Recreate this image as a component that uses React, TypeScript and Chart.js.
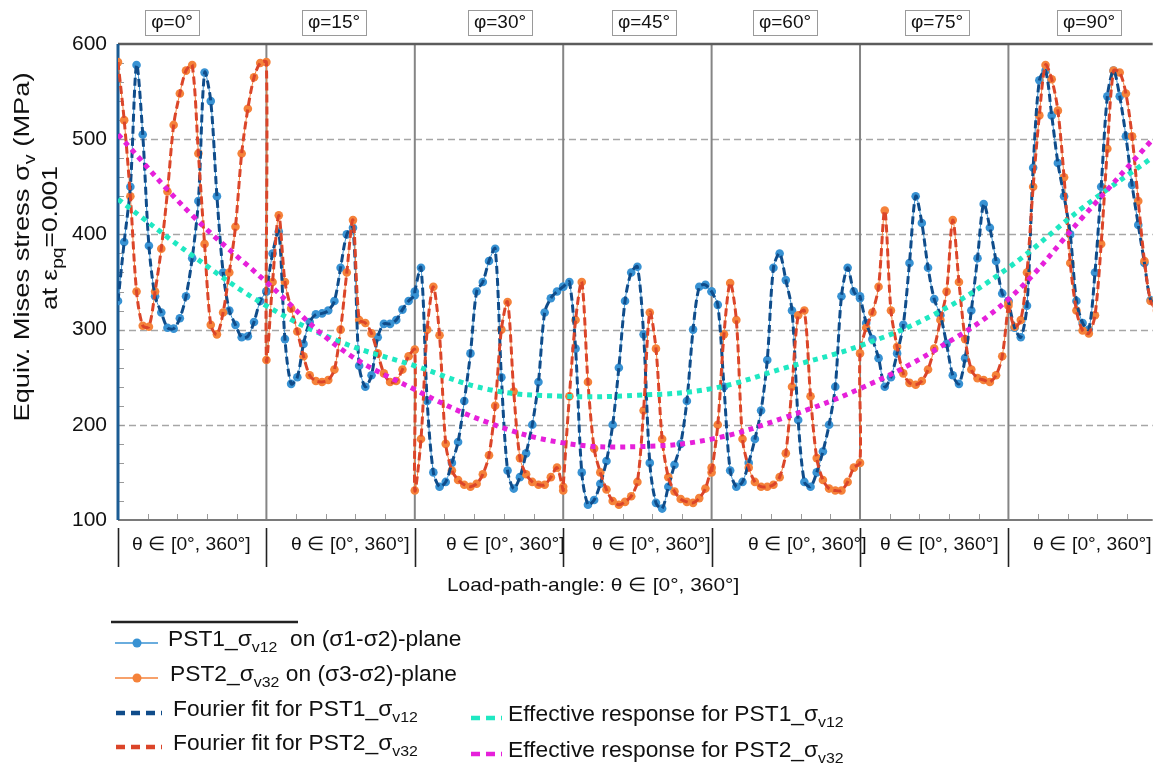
import React, { useEffect, useRef } from 'react';
import { Chart, registerables } from 'chart.js';

Chart.register(...registerables);

// ---------- DATA ----------
const PANEL_LABELS = ['φ=0°', 'φ=15°', 'φ=30°', 'φ=45°', 'φ=60°', 'φ=75°', 'φ=90°'];
const THETA_LABEL = 'θ ∈ [0°, 360°]';
const Y_TICKS = [100, 200, 300, 400, 500, 600];
const THETA_STEPS = [0, 15, 30, 45, 60, 75, 90, 105, 120, 135, 150, 165, 180, 195, 210, 225, 240, 255, 270, 285, 300, 315, 330, 345, 360];

// PST1 sigma_v12 per panel (phi = 0..90)
const PST1_PHI0 = [330, 392, 450, 578, 505, 388, 335, 318, 302, 301, 312, 335, 375, 435, 570, 540, 440, 360, 320, 305, 292, 293, 308, 330, 340];
const PST1_PHI15 = [340, 380, 403, 290, 243, 250, 285, 308, 316, 317, 320, 330, 365, 400, 407, 262, 240, 252, 292, 306, 306, 310, 321, 330, 336];
const PST1_PHI30 = [340, 365, 225, 150, 135, 140, 160, 182, 225, 275, 340, 350, 372, 385, 250, 152, 133, 145, 170, 200, 245, 318, 333, 340, 345];
const PST1_PHI45 = [345, 350, 280, 150, 116, 121, 138, 162, 200, 260, 330, 360, 366, 295, 160, 118, 112, 135, 158, 180, 225, 300, 345, 347, 340];
const PST1_PHI60 = [340, 326, 240, 152, 135, 140, 160, 185, 215, 268, 365, 380, 352, 320, 205, 140, 135, 150, 172, 200, 240, 335, 365, 340, 333];
const PST1_PHI75 = [335, 307, 290, 270, 240, 250, 275, 305, 370, 440, 412, 365, 332, 315, 285, 252, 243, 270, 320, 375, 432, 407, 372, 338, 330];
const PST1_PHI90 = [330, 302, 292, 325, 470, 562, 572, 525, 475, 440, 400, 330, 307, 300, 360, 450, 545, 572, 545, 503, 452, 410, 370, 331, 330];

// PST2 sigma_v32 per panel
const PST2_PHI0 = [581, 520, 440, 340, 304, 303, 340, 385, 445, 515, 548, 572, 578, 485, 390, 305, 295, 318, 360, 408, 485, 532, 565, 580, 581];
const PST2_PHI15 = [268, 350, 420, 350, 322, 298, 272, 252, 246, 245, 247, 258, 300, 360, 415, 310, 307, 296, 275, 254, 245, 246, 258, 272, 279];
const PST2_PHI30 = [131, 185, 300, 345, 294, 180, 152, 142, 137, 135, 138, 148, 168, 220, 300, 329, 235, 165, 148, 140, 137, 137, 145, 155, 131];
const PST2_PHI45 = [135, 230, 310, 350, 245, 175, 150, 132, 120, 116, 119, 125, 140, 215, 318, 280, 185, 145, 130, 122, 119, 118, 123, 133, 155];
const PST2_PHI60 = [150, 200, 295, 349, 310, 185, 155, 140, 135, 135, 137, 145, 170, 240, 315, 320, 230, 165, 142, 133, 131, 131, 140, 155, 160];
const PST2_PHI75 = [275, 302, 318, 345, 425, 320, 282, 254, 244, 242, 246, 258, 280, 310, 340, 415, 350, 290, 258, 249, 247, 245, 252, 272, 328];
const PST2_PHI90 = [325, 303, 310, 360, 450, 525, 578, 563, 530, 460, 370, 320, 299, 296, 315, 390, 490, 572, 570, 548, 503, 435, 372, 330, 320];

// Effective responses (global load-path position in degrees)
const EFF_X = [0, 180, 360, 540, 720, 900, 1080, 1260, 1440, 1620, 1800, 1980, 2160, 2340, 2510];
const EFF_PST1 = [437, 378, 325, 287, 262, 237, 230, 231, 238, 260, 283, 316, 365, 428, 481];
const EFF_PST2 = [505, 420, 350, 280, 237, 202, 181, 177, 185, 208, 238, 278, 332, 418, 500];

const PST1_PANELS = [PST1_PHI0, PST1_PHI15, PST1_PHI30, PST1_PHI45, PST1_PHI60, PST1_PHI75, PST1_PHI90];
const PST2_PANELS = [PST2_PHI0, PST2_PHI15, PST2_PHI30, PST2_PHI45, PST2_PHI60, PST2_PHI75, PST2_PHI90];

const X_MAX = 2510;
const PANEL_SPAN = 360;

// ---------- STYLE ----------
const FONT = "'Liberation Sans', Arial, sans-serif";
const C_PST1 = '#3892d3';
const C_PST2 = '#f5823a';
const C_FIT1 = '#0f4c8a';
const C_FIT2 = '#db4529';
const C_EFF1 = '#1fe8c2';
const C_EFF2 = '#e620da';

function buildSeries(panels: number[][]) {
  const pts: { x: number; y: number }[] = [];
  panels.forEach((vals, k) => {
    vals.forEach((v, i) => pts.push({ x: k * PANEL_SPAN + THETA_STEPS[i], y: v }));
  });
  return pts;
}

type Part = [string, boolean?];

function drawRich(
  ctx: CanvasRenderingContext2D,
  parts: Part[],
  x: number,
  y: number,
  size: number,
  align: 'left' | 'center',
  sx = 1,
) {
  const subSize = Math.round(size * 0.72);
  let total = 0;
  for (const [t, sub] of parts) {
    ctx.font = `${sub ? subSize : size}px ${FONT}`;
    total += ctx.measureText(t).width;
  }
  ctx.save();
  ctx.translate(x, y);
  ctx.scale(sx, 1);
  let cx = align === 'center' ? -total / 2 : 0;
  ctx.textBaseline = 'middle';
  ctx.textAlign = 'left';
  for (const [t, sub] of parts) {
    ctx.font = `${sub ? subSize : size}px ${FONT}`;
    ctx.fillText(t, cx, sub ? size * 0.36 : 0);
    cx += ctx.measureText(t).width;
  }
  ctx.restore();
}

const PHI_CENTERS = [172, 334, 500, 644, 785, 937, 1089];
const THETA_LABEL_LEFT = [132, 291, 446, 592, 748, 880, 1033];

const decorPlugin = {
  id: 'decor',
  beforeDatasetsDraw(chart: any) {
    const { ctx, chartArea, scales } = chart;
    const { left, right, top, bottom } = chartArea;
    const xs = scales.x;
    const ys = scales.y;
    ctx.save();
    // dashed horizontal grid
    ctx.strokeStyle = '#a6a6a6';
    ctx.lineWidth = 1.3;
    ctx.setLineDash([7, 4]);
    for (const v of Y_TICKS) {
      if (v === 100 || v === 600) continue;
      const py = Math.round(ys.getPixelForValue(v)) + 0.5;
      ctx.beginPath();
      ctx.moveTo(left, py);
      ctx.lineTo(right, py);
      ctx.stroke();
    }
    ctx.setLineDash([]);
    // minor ticks
    ctx.strokeStyle = '#9a9a9a';
    ctx.lineWidth = 1;
    for (let g = 72; g < X_MAX; g += 72) {
      if (g % PANEL_SPAN === 0) continue;
      const px = Math.round(xs.getPixelForValue(g)) + 0.5;
      ctx.beginPath();
      ctx.moveTo(px, bottom);
      ctx.lineTo(px, bottom - 6);
      ctx.stroke();
    }
    for (let v = 120; v < 600; v += 20) {
      const py = Math.round(ys.getPixelForValue(v)) + 0.5;
      ctx.beginPath();
      ctx.moveTo(left, py);
      ctx.lineTo(left + 6, py);
      ctx.stroke();
    }
    // panel dividers
    ctx.strokeStyle = '#858585';
    ctx.lineWidth = 2;
    for (let k = 1; k < PANEL_LABELS.length; k++) {
      const px = xs.getPixelForValue(k * PANEL_SPAN);
      ctx.beginPath();
      ctx.moveTo(px, top);
      ctx.lineTo(px, bottom);
      ctx.stroke();
    }
    // top border
    ctx.strokeStyle = '#5c5c5c';
    ctx.lineWidth = 2.5;
    ctx.beginPath();
    ctx.moveTo(left, top);
    ctx.lineTo(right, top);
    ctx.stroke();
    // bottom axis
    ctx.strokeStyle = '#7a7a7a';
    ctx.lineWidth = 2;
    ctx.beginPath();
    ctx.moveTo(left, bottom);
    ctx.lineTo(right, bottom);
    ctx.stroke();
    // left axis
    ctx.strokeStyle = '#1b5c94';
    ctx.lineWidth = 3;
    ctx.beginPath();
    ctx.moveTo(left, top);
    ctx.lineTo(left, bottom);
    ctx.stroke();
    ctx.restore();
  },
  afterDraw(chart: any) {
    const { ctx, chartArea, scales } = chart;
    const { bottom } = chartArea;
    const xs = scales.x;
    ctx.save();
    ctx.fillStyle = '#111';

    // phi boxes
    PANEL_LABELS.forEach((lab, k) => {
      ctx.font = `19px ${FONT}`;
      const w = ctx.measureText(lab).width + 12;
      const cx = PHI_CENTERS[k];
      ctx.strokeStyle = '#9a9a9a';
      ctx.lineWidth = 1;
      ctx.strokeRect(Math.round(cx - w / 2) + 0.5, 10.5, Math.round(w), 25);
      ctx.fillStyle = '#111';
      ctx.textAlign = 'center';
      ctx.textBaseline = 'middle';
      ctx.fillText(lab, cx, 23);
    });

    // separators + theta labels
    ctx.strokeStyle = '#222';
    ctx.lineWidth = 1.6;
    for (let k = 0; k < PANEL_LABELS.length; k++) {
      const px = Math.round(xs.getPixelForValue(k * PANEL_SPAN)) + 0.5;
      ctx.beginPath();
      ctx.moveTo(px, bottom + 8);
      ctx.lineTo(px, bottom + 47);
      ctx.stroke();
      drawRich(ctx, [[THETA_LABEL]], THETA_LABEL_LEFT[k], 545, 18.5, 'left', 1.04);
    }
    drawRich(ctx, [['Load-path-angle: ' + THETA_LABEL]], 447, 586, 19, 'left', 1.1);

    // y title
    ctx.save();
    ctx.translate(23, 247);
    ctx.rotate(-Math.PI / 2);
    drawRich(ctx, [['Equiv. Mises stress σ'], ['v', true], [' (MPa)']], 0, 0, 22, 'center', 1.24);
    ctx.restore();
    ctx.save();
    ctx.translate(51, 238);
    ctx.rotate(-Math.PI / 2);
    drawRich(ctx, [['at ε'], ['pq', true], ['=0.001']], 0, 0, 22, 'center', 1.2);
    ctx.restore();

    // legend
    ctx.strokeStyle = '#222';
    ctx.lineWidth = 2.5;
    ctx.beginPath();
    ctx.moveTo(111, 622);
    ctx.lineTo(298, 622);
    ctx.stroke();

    const markerRow = (y: number, color: string, textX: number, parts: Part[]) => {
      ctx.strokeStyle = color;
      ctx.lineWidth = 1.5;
      ctx.beginPath();
      ctx.moveTo(115, y);
      ctx.lineTo(158, y);
      ctx.stroke();
      ctx.fillStyle = color;
      ctx.beginPath();
      ctx.arc(137, y, 4.5, 0, Math.PI * 2);
      ctx.fill();
      ctx.fillStyle = '#111';
      drawRich(ctx, parts, textX, y - 3, 21.5, 'left', 1.06);
    };
    const dashRow = (x0: number, x1: number, y: number, color: string, textX: number, parts: Part[]) => {
      ctx.strokeStyle = color;
      ctx.lineWidth = 4.5;
      ctx.setLineDash([9, 6]);
      ctx.beginPath();
      ctx.moveTo(x0, y);
      ctx.lineTo(x1, y);
      ctx.stroke();
      ctx.setLineDash([]);
      ctx.fillStyle = '#111';
      drawRich(ctx, parts, textX, y - 3, 21.5, 'left', 1.06);
    };
    markerRow(643, C_PST1, 168, [['PST1_σ'], ['v12', true], ['  on (σ1-σ2)-plane']]);
    markerRow(678, C_PST2, 170, [['PST2_σ'], ['v32', true], [' on (σ3-σ2)-plane']]);
    dashRow(116, 162, 713, C_FIT1, 173, [['Fourier fit for PST1_σ'], ['v12', true]]);
    dashRow(116, 162, 747, C_FIT2, 173, [['Fourier fit for PST2_σ'], ['v32', true]]);
    dashRow(471, 502, 718, C_EFF1, 508, [['Effective response for PST1_σ'], ['v12', true]]);
    dashRow(471, 502, 754, C_EFF2, 508, [['Effective response for PST2_σ'], ['v32', true]]);

    ctx.restore();
  },
};

export default function App() {
  const ref = useRef<HTMLCanvasElement | null>(null);

  useEffect(() => {
    if (!ref.current) return;
    const pst1 = buildSeries(PST1_PANELS);
    const pst2 = buildSeries(PST2_PANELS);
    const eff1 = EFF_X.map((x, i) => ({ x, y: EFF_PST1[i] }));
    const eff2 = EFF_X.map((x, i) => ({ x, y: EFF_PST2[i] }));

    const chart = new Chart(ref.current, {
      type: 'line',
      data: {
        datasets: [
          {
            label: 'Effective response for PST2',
            data: eff2,
            borderColor: C_EFF2,
            borderWidth: 5,
            borderDash: [5, 5],
            pointRadius: 0,
            tension: 0.4,
            fill: false,
          },
          {
            label: 'Effective response for PST1',
            data: eff1,
            borderColor: C_EFF1,
            borderWidth: 5,
            borderDash: [5, 5],
            pointRadius: 0,
            tension: 0.4,
            fill: false,
          },
          {
            label: 'Fourier fit for PST2',
            data: pst2,
            borderColor: C_FIT2,
            borderWidth: 3,
            borderDash: [8, 4],
            pointRadius: 0,
            tension: 0.3,
            fill: false,
          },
          {
            label: 'Fourier fit for PST1',
            data: pst1,
            borderColor: C_FIT1,
            borderWidth: 3,
            borderDash: [8, 4],
            pointRadius: 0,
            tension: 0.3,
            fill: false,
          },
          {
            label: 'PST2 on (σ3-σ2)-plane',
            data: pst2,
            borderColor: C_PST2,
            backgroundColor: C_PST2,
            borderWidth: 1,
            pointRadius: 4.3,
            pointBorderWidth: 0,
            pointBackgroundColor: C_PST2,
            tension: 0.3,
            fill: false,
          },
          {
            label: 'PST1 on (σ1-σ2)-plane',
            data: pst1,
            borderColor: C_PST1,
            backgroundColor: C_PST1,
            borderWidth: 1,
            pointRadius: 4.3,
            pointBorderWidth: 0,
            pointBackgroundColor: C_PST1,
            tension: 0.3,
            fill: false,
          },
        ],
      },
      options: {
        animation: false,
        responsive: false,
        devicePixelRatio: 1,
        layout: { padding: { top: 44, right: 0, bottom: 0, left: 0 } },
        plugins: {
          legend: { display: false },
          tooltip: { enabled: false },
        },
        scales: {
          x: {
            type: 'linear',
            min: 0,
            max: X_MAX,
            grid: { display: false, drawTicks: false },
            border: { display: false },
            ticks: { display: false },
            afterFit: (s: any) => {
              s.height = 253;
            },
          },
          y: {
            type: 'linear',
            min: 100,
            max: 600,
            grid: { display: false, drawTicks: false },
            border: { display: false },
            ticks: {
              stepSize: 100,
              padding: 11,
              color: '#111',
              font: { size: 21, family: FONT },
            },
            afterFit: (s: any) => {
              s.width = 118;
            },
          },
        },
      },
      plugins: [decorPlugin],
    });
    return () => chart.destroy();
  }, []);

  return (
    <div style={{ position: 'absolute', left: 0, top: 0, width: 1157, height: 773, background: '#fff' }}>
      <canvas ref={ref} width={1157} height={773} style={{ display: 'block', width: 1157, height: 773 }} />
    </div>
  );
}
